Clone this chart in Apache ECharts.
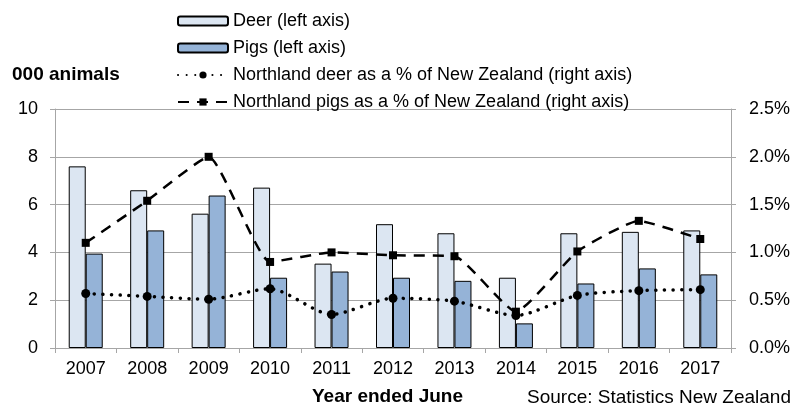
<!DOCTYPE html>
<html>
<head>
<meta charset="utf-8">
<script src="https://cdn.jsdelivr.net/npm/echarts@6/dist/echarts.min.js"></script>
<style>
  html, body { margin: 0; padding: 0; background: #fff; }
  #chart { width: 809px; height: 410px; }
</style>
</head>
<body>
<div id="chart"></div>
<script>
// data
var years = ['2007', '2008', '2009', '2010', '2011', '2012', '2013', '2014', '2015', '2016', '2017'];
var deer = [7.6, 6.6, 5.62, 6.71, 3.53, 5.18, 4.8, 2.94, 4.8, 4.86, 4.92];      // 000 animals
var pigs = [3.95, 4.92, 6.38, 2.94, 3.2, 2.94, 2.81, 1.03, 2.7, 3.33, 3.08];    // 000 animals
var deerPct = [0.57, 0.54, 0.51, 0.62, 0.35, 0.52, 0.49, 0.34, 0.55, 0.60, 0.61]; // % of NZ
var pigsPct = [1.10, 1.54, 2.0, 0.90, 1.0, 0.97, 0.96, 0.38, 1.01, 1.33, 1.14];  // % of NZ
var leftTicks = { min: 0, max: 10, interval: 2 };
var rightTicks = { min: 0, max: 2.5, interval: 0.5 };

var font = 'Liberation Sans, Arial, sans-serif';
var gridGray = '#a6a6a6';

var chart = echarts.init(document.getElementById('chart'));
chart.setOption({
  animation: false,
  textStyle: { fontFamily: font, color: '#000' },
  grid: { left: 55, right: 78, top: 109, bottom: 62 },
  legend: {
    orient: 'vertical',
    left: 172,
    top: 7,
    itemWidth: 50,
    itemHeight: 9,
    itemGap: 9,
    textStyle: { fontSize: 18, color: '#000', fontFamily: font },
    data: [
      'Deer (left axis)',
      'Pigs (left axis)',
      'Northland deer as a % of New Zealand (right axis)',
      'Northland pigs as a % of New Zealand (right axis)'
    ]
  },
  graphic: [
    { type: 'text', left: 12, top: 65, style: { text: '000 animals', font: 'bold 19px ' + font, fill: '#000' } },
    { type: 'text', left: 312, top: 387, style: { text: 'Year ended June', font: 'bold 19px ' + font, fill: '#000' } },
    { type: 'text', left: 527, top: 388, style: { text: 'Source: Statistics New Zealand', font: '19px ' + font, fill: '#000' } }
  ],
  xAxis: {
    type: 'category',
    data: years,
    axisLine: { lineStyle: { color: gridGray } },
    axisTick: { show: true, length: 5, lineStyle: { color: gridGray } },
    axisLabel: { color: '#000', fontSize: 18, margin: 12 }
  },
  yAxis: [
    {
      type: 'value',
      min: leftTicks.min, max: leftTicks.max, interval: leftTicks.interval,
      axisLine: { show: true, lineStyle: { color: gridGray } },
      axisTick: { show: true, length: 5, lineStyle: { color: gridGray } },
      splitLine: { lineStyle: { color: gridGray } },
      axisLabel: { color: '#000', fontSize: 18, margin: 17 }
    },
    {
      type: 'value',
      min: rightTicks.min, max: rightTicks.max, interval: rightTicks.interval,
      axisLine: { show: true, lineStyle: { color: gridGray } },
      axisTick: { show: true, length: 5, lineStyle: { color: gridGray } },
      splitLine: { show: false },
      axisLabel: { color: '#000', fontSize: 18, margin: 18, formatter: function (v) { return v.toFixed(1) + '%'; } }
    }
  ],
  series: [
    {
      name: 'Deer (left axis)',
      type: 'bar',
      data: deer,
      barWidth: 17,
      barGap: '0%',
      itemStyle: { color: '#dce6f2', borderColor: '#000', borderWidth: 1 }
    },
    {
      name: 'Pigs (left axis)',
      type: 'bar',
      data: pigs,
      barWidth: 17,
      itemStyle: { color: '#95b3d7', borderColor: '#000', borderWidth: 1 }
    },
    {
      name: 'Northland deer as a % of New Zealand (right axis)',
      type: 'line',
      yAxisIndex: 1,
      data: deerPct,
      smooth: 0.25,
      symbol: 'circle',
      symbolSize: 9,
      itemStyle: { color: '#000' },
      lineStyle: { color: '#000', width: 3.5, type: [0.1, 8.5], cap: 'round' },
      z: 5
    },
    {
      name: 'Northland pigs as a % of New Zealand (right axis)',
      type: 'line',
      yAxisIndex: 1,
      data: pigsPct,
      smooth: 0.15,
      symbol: 'rect',
      symbolSize: 8,
      itemStyle: { color: '#000' },
      lineStyle: { color: '#000', width: 2.5, type: [11, 8] },
      z: 6
    }
  ]
});
</script>
</body>
</html>
